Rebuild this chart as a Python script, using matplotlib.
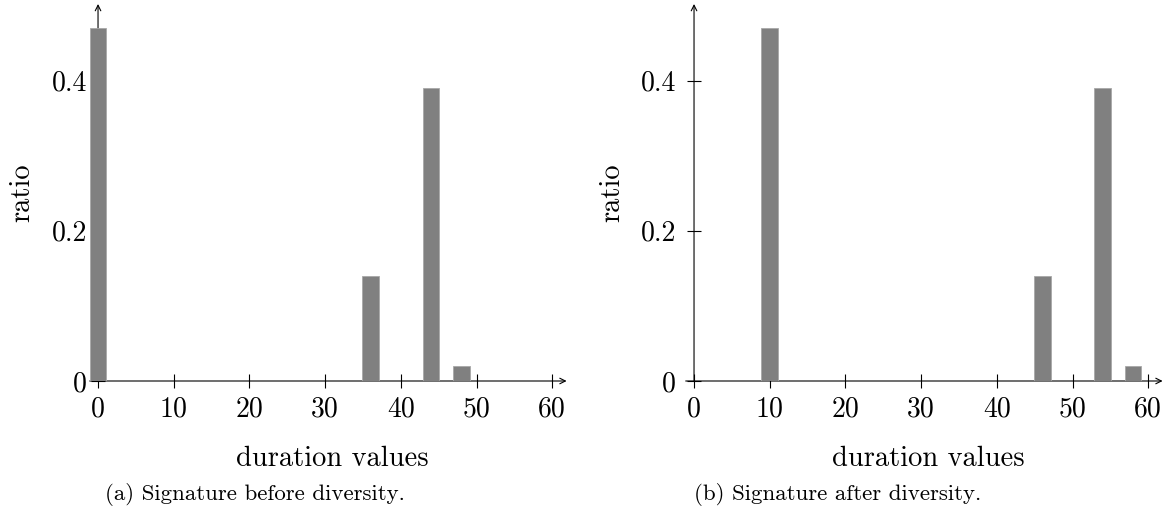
import matplotlib
matplotlib.use("Agg")
import matplotlib.pyplot as plt

plt.rcParams['font.family'] = ['cmr10', 'DejaVu Serif']
plt.rcParams['axes.formatter.use_mathtext'] = True

# data
before_x = [0, 36, 44, 48]
after_x = [10, 46, 54, 58]
ratios = [0.47, 0.14, 0.39, 0.02]
xticks = [0, 10, 20, 30, 40, 50, 60]
yticks = [0, 0.2, 0.4]
ytick_labels = ["0", "0.2", "0.4"]
captions = ["(a) Signature before diversity.", "(b) Signature after diversity."]

W, H = 1172, 512
fig = plt.figure(figsize=(W / 100, H / 100), dpi=100)

xlo, xhi = -1.1, 61.9
ylo, yhi = 0.0, 0.502
ax_w = 0.4069
ax_b = (H - 381) / H
ax_h = 377 / H
lefts = [89.7 / W, 685.7 / W]
cap_x = [255, 838]
xlab_x = [332, 928]
ylab_x = [22, 612]
ypads = [3, 8]

for i, (xs, cap) in enumerate(zip([before_x, after_x], captions)):
    ax = fig.add_axes([lefts[i], ax_b, ax_w, ax_h])
    ax.set_xlim(xlo, xhi)
    ax.set_ylim(ylo, yhi)
    ax.spines['left'].set_position(('data', 0))
    ax.spines['bottom'].set_position(('data', 0))
    for s in ax.spines.values():
        s.set_visible(False)
    # axis lines with arrows
    ax.annotate('', xy=(xhi, 0), xytext=(xlo, 0), xycoords='data',
                arrowprops=dict(arrowstyle='->', lw=0.8, color='black',
                                shrinkA=0, shrinkB=0, mutation_scale=10),
                annotation_clip=False, zorder=1)
    ax.annotate('', xy=(0, yhi), xytext=(0, ylo), xycoords='data',
                arrowprops=dict(arrowstyle='->', lw=0.8, color='black',
                                shrinkA=0, shrinkB=0, mutation_scale=10),
                annotation_clip=False, zorder=1)
    ax.bar(xs, ratios, width=2.2, color='#808080', edgecolor='#a8a8a8',
           linewidth=0.6, zorder=3)
    ax.set_xticks(xticks)
    ax.set_xticklabels([str(t) for t in xticks])
    ax.set_yticks(yticks)
    ax.set_yticklabels(ytick_labels)
    ax.tick_params(axis='both', direction='inout', length=10, width=0.8,
                   labelsize=20, color='black')
    ax.tick_params(axis='x', pad=6)
    ax.tick_params(axis='y', pad=ypads[i])
    fig.text(xlab_x[i] / W, (H - 466) / H, 'duration values', ha='center',
             va='baseline', fontsize=20.5)
    fig.text(ylab_x[i] / W, (H - 193) / H, 'ratio', ha='center',
             va='center', rotation=90, fontsize=20.5)
    fig.text(cap_x[i] / W, (H - 500) / H, cap, ha='center', va='baseline',
             fontsize=16.5)

fig.savefig('out.png', dpi=100)
